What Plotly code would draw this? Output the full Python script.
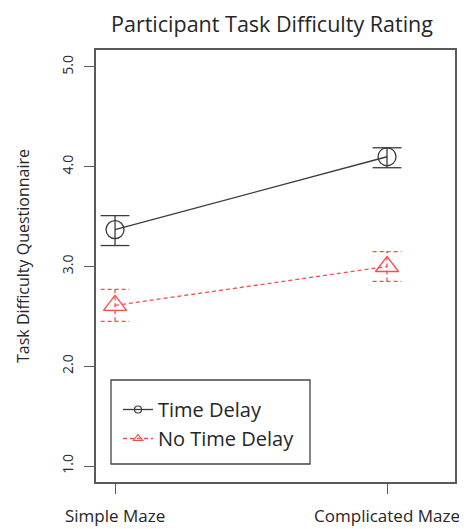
import plotly.graph_objects as go

categories = ["Simple Maze", "Complicated Maze"]
x_pos = [1, 2]
delay_mean = [3.37, 4.10]
delay_upper = [3.51, 4.19]
delay_lower = [3.21, 3.99]
nodelay_mean = [2.61, 3.00]
nodelay_upper = [2.77, 3.15]
nodelay_lower = [2.45, 2.85]
y_ticks = [1, 2, 3, 4, 5]
y_tick_labels = ["1.0", "2.0", "3.0", "4.0", "5.0"]

FONT = "Open Sans"
TXT = "#262626"
BLACK = "#3a3a3a"
RED = "#ff4a4a"
CAP = 0.053

# page body has an 8px margin; figure sized to fit the window
W, H = 459, 521
L, T = 88, 42
PW, PH = 359, 432

fig = go.Figure()


def add_errorbars(means_x, lo, hi, color, dash):
    xs, ys = [], []
    for x, l, h in zip(means_x, lo, hi):
        xs += [x, x, None, x - CAP, x + CAP, None, x - CAP, x + CAP, None]
        ys += [l, h, None, h, h, None, l, l, None]
    fig.add_trace(go.Scatter(x=xs, y=ys, mode="lines", showlegend=False,
                             hoverinfo="skip",
                             line=dict(color=color, width=1.3, dash=dash)))


add_errorbars(x_pos, delay_lower, delay_upper, BLACK, "solid")
add_errorbars(x_pos, nodelay_lower, nodelay_upper, RED, "4px,3px")

fig.add_trace(go.Scatter(x=x_pos, y=delay_mean, mode="lines+markers", showlegend=False,
                         line=dict(color=BLACK, width=1.3),
                         marker=dict(symbol="circle-open", size=18, color=BLACK,
                                     line=dict(width=1.3, color=BLACK))))
fig.add_trace(go.Scatter(x=x_pos, y=nodelay_mean, mode="lines+markers", showlegend=False,
                         line=dict(color=RED, width=1.3, dash="4px,3px"),
                         marker=dict(symbol="triangle-up-open", size=20, color=RED,
                                     line=dict(width=1.3, color=RED))))

# legend entries
fig.add_trace(go.Scatter(x=[None], y=[None], mode="lines+markers", name="Time Delay",
                         legendgroup="a",
                         line=dict(color=BLACK, width=1.3),
                         marker=dict(symbol="circle-open", size=7, color=BLACK,
                                     line=dict(width=1.2, color=BLACK))))
fig.add_trace(go.Scatter(x=[None], y=[None], mode="lines+markers", name="No Time Delay",
                         legendgroup="b",
                         line=dict(color=RED, width=1.3, dash="4px,3px"),
                         marker=dict(symbol="triangle-up-open", size=8, color=RED,
                                     line=dict(width=1.2, color=RED))))


# screen px -> paper coords
def px_x(sx):
    return (sx - 8 - L) / PW


def px_y(sy):
    return 1 - (sy - 8 - T) / PH


fig.add_shape(type="rect", xref="paper", yref="paper",
              x0=px_x(111), x1=px_x(310), y0=px_y(464), y1=px_y(380),
              line=dict(color="#444444", width=1.3), fillcolor="rgba(0,0,0,0)")

fig.add_annotation(text="Task Difficulty Questionnaire", textangle=-90,
                   xref="paper", yref="paper", x=px_x(23), y=px_y(256),
                   xanchor="center", yanchor="middle", showarrow=False,
                   font=dict(size=16, family=FONT, color=TXT))

fig.update_layout(
    width=W, height=H,
    margin=dict(l=L, r=W - L - PW, t=T, b=H - T - PH, autoexpand=False),
    paper_bgcolor="white", plot_bgcolor="white",
    font=dict(family=FONT, color=TXT),
    title=dict(text="Participant Task Difficulty Rating", x=(272 - 8) / W,
               xanchor="center", yref="container", y=1 - (24 - 8) / H,
               yanchor="middle",
               font=dict(size=21.5, family=FONT, color=TXT)),
    legend=dict(x=px_x(118), y=px_y(390), xanchor="left", yanchor="top",
                borderwidth=0, bgcolor="rgba(0,0,0,0)",
                font=dict(size=20, family=FONT, color=TXT),
                traceorder="grouped", tracegroupgap=0, itemwidth=30),
    showlegend=True,
)

fig.update_xaxes(range=[0.93, 2.25], tickvals=x_pos, ticktext=categories,
                 showgrid=False, zeroline=False, showline=True, mirror=True,
                 linecolor="#5a5a5a", linewidth=1.6, ticks="outside", ticklen=10,
                 tickcolor="#5a5a5a", tickwidth=1.3, ticklabelstandoff=8,
                 tickfont=dict(size=17, family=FONT, color=TXT))
fig.update_yaxes(range=[0.84, 5.17], tickvals=y_ticks, ticktext=y_tick_labels,
                 showgrid=False, zeroline=False, showline=True, mirror=True,
                 linecolor="#5a5a5a", linewidth=1.6, ticks="outside", ticklen=10,
                 tickcolor="#5a5a5a", tickwidth=1.3, tickangle=-90,
                 ticklabelstandoff=6,
                 tickfont=dict(size=14, family=FONT, color=TXT))

fig.write_html("out.html")
